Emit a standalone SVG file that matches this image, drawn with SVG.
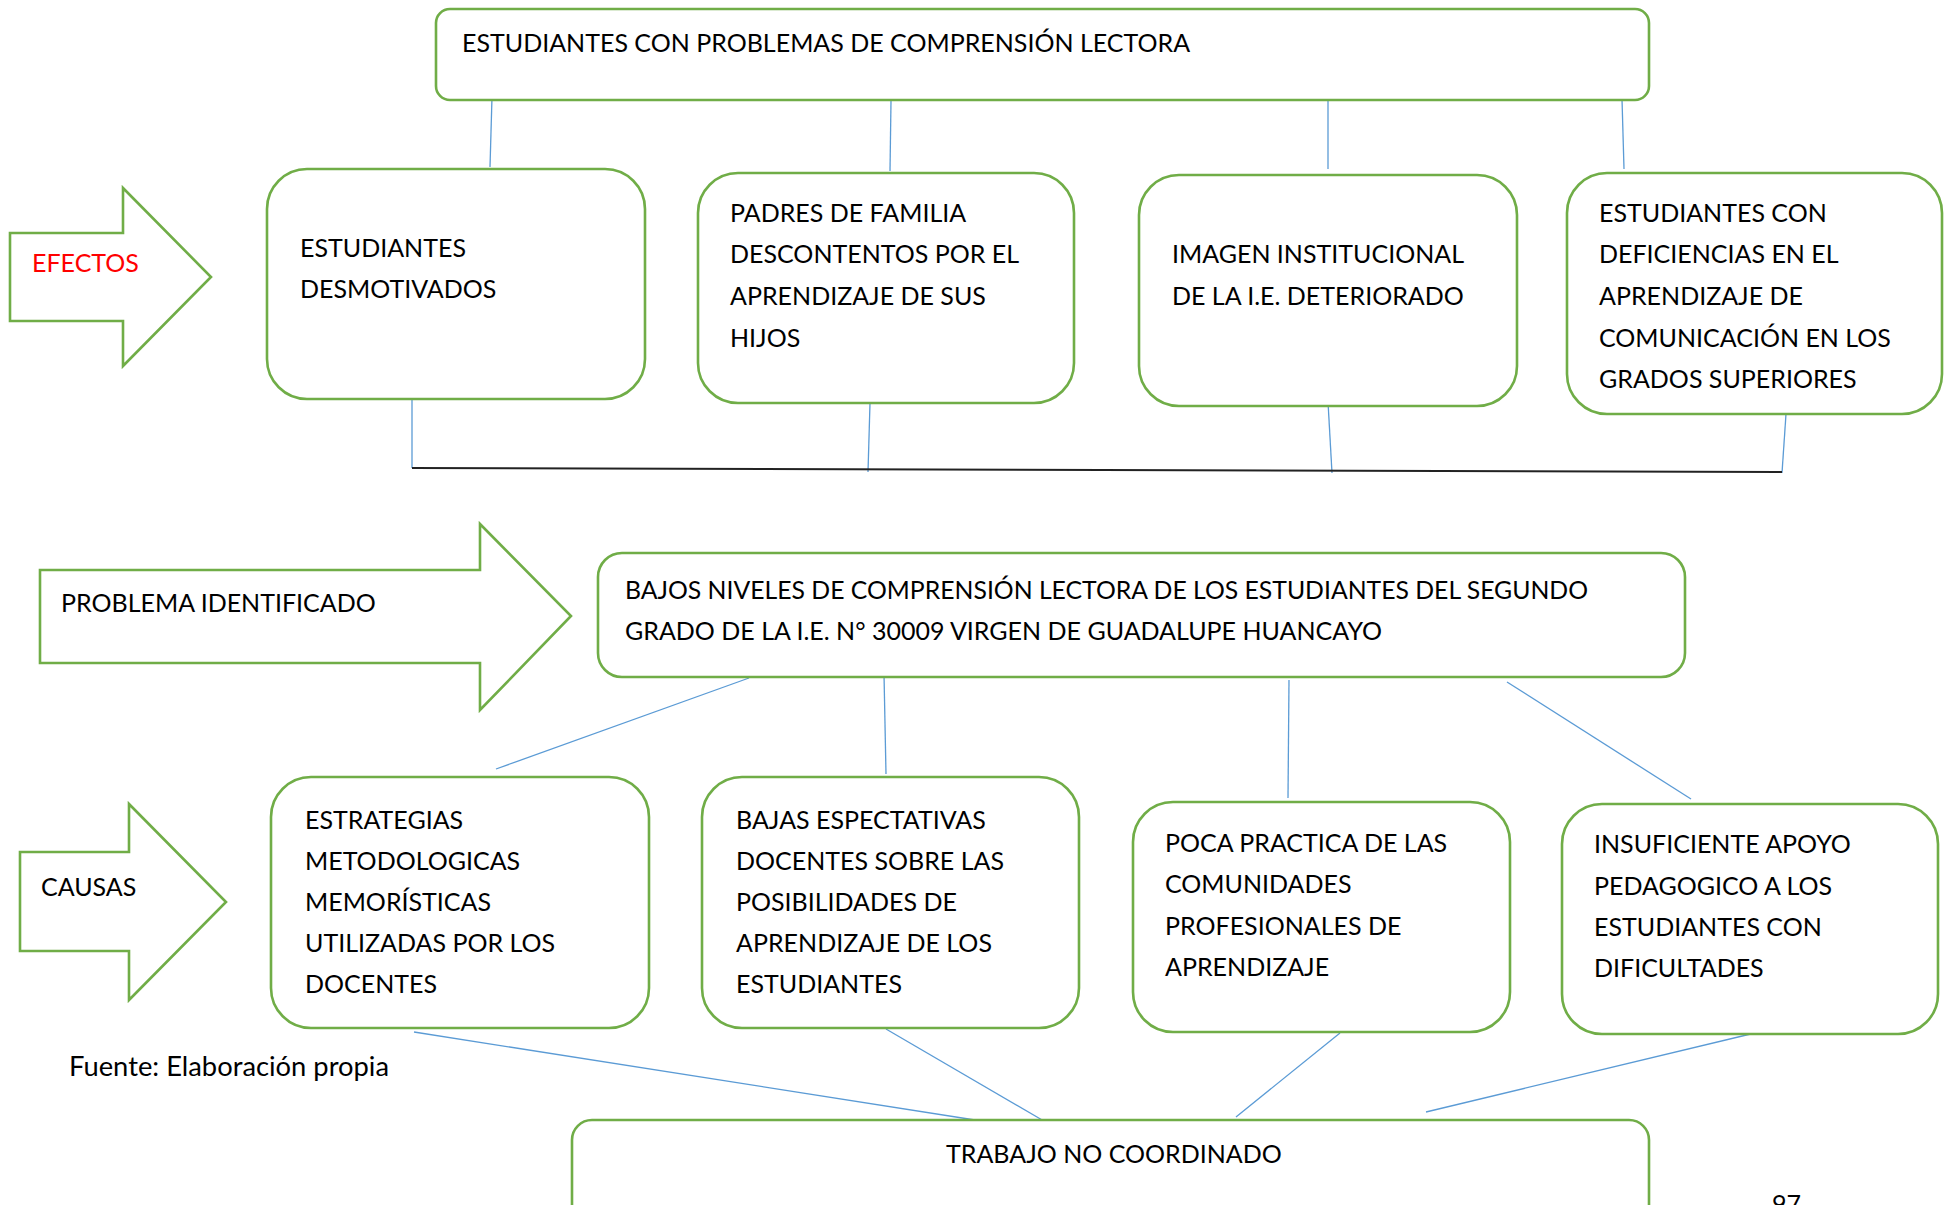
<svg xmlns="http://www.w3.org/2000/svg" width="1944" height="1205" viewBox="0 0 1944 1205">
<style>
  .box { fill: #ffffff; stroke: #70AD47; stroke-width: 2.6; }
  .arrow { fill: #ffffff; stroke: #70AD47; stroke-width: 2.6; stroke-linejoin: miter; }
  .t { font-family: Lato, "Liberation Sans", sans-serif; font-size: 25px; fill: #000000; }
  .red { fill: #FF0000; }
  .con line { stroke: #5B9BD5; stroke-width: 1.3; }
  .con .bar { stroke: #222222; stroke-width: 2; }
</style>
<rect width="1944" height="1205" fill="#ffffff"/>

<g id="connectors" class="con">
  <line x1="492" y1="97" x2="490" y2="167"/>
  <line x1="891" y1="101" x2="890" y2="171"/>
  <line x1="1328" y1="99" x2="1328" y2="169"/>
  <line x1="1622" y1="99" x2="1624" y2="169"/>
  <line x1="412" y1="399" x2="412" y2="468"/>
  <line x1="870" y1="403" x2="868" y2="472"/>
  <line x1="1328" y1="402" x2="1332" y2="473"/>
  <line x1="1786" y1="414" x2="1782" y2="473"/>
  <line class="bar" x1="412" y1="468" x2="1782" y2="472"/>
  <line x1="749" y1="678" x2="496" y2="769"/>
  <line x1="884" y1="674" x2="886" y2="774"/>
  <line x1="1289" y1="680" x2="1288" y2="798"/>
  <line x1="1507" y1="682" x2="1691" y2="799"/>
  <line x1="414" y1="1032" x2="975" y2="1120"/>
  <line x1="886" y1="1029" x2="1049" y2="1124"/>
  <line x1="1340" y1="1033" x2="1236" y2="1117"/>
  <line x1="1759" y1="1032" x2="1426" y2="1112"/>
</g>

<g id="arrow-efectos">
  <polygon class="arrow" points="10,233 123,233 123,188 211,277 123,366 123,321 10,321"/>
  <text class="t red" x="32" y="272">EFECTOS</text>
</g>

<g id="arrow-problema">
  <polygon class="arrow" points="40,570 480,570 480,524 571,616 480,710 480,663 40,663"/>
  <text class="t" x="61" y="612">PROBLEMA IDENTIFICADO</text>
</g>

<g id="arrow-causas">
  <polygon class="arrow" points="20,852 129,852 129,804 226,902 129,1000 129,951 20,951"/>
  <text class="t" x="41" y="896">CAUSAS</text>
</g>

<g id="top">
  <rect class="box" x="436" y="9" width="1213" height="91" rx="14"/>
  <text class="t" x="462" y="52">ESTUDIANTES CON PROBLEMAS DE COMPRENSIÓN LECTORA</text>
</g>

<g id="efecto1">
  <rect class="box" x="267" y="169" width="378" height="230" rx="40"/>
  <text class="t" x="300" y="257">ESTUDIANTES</text>
  <text class="t" x="300" y="298">DESMOTIVADOS</text>
</g>

<g id="efecto2">
  <rect class="box" x="698" y="173" width="376" height="230" rx="40"/>
  <text class="t" x="730" y="222">PADRES DE FAMILIA</text>
  <text class="t" x="730" y="263">DESCONTENTOS POR EL</text>
  <text class="t" x="730" y="305">APRENDIZAJE DE SUS</text>
  <text class="t" x="730" y="347">HIJOS</text>
</g>

<g id="efecto3">
  <rect class="box" x="1139" y="175" width="378" height="231" rx="40"/>
  <text class="t" x="1172" y="263">IMAGEN INSTITUCIONAL</text>
  <text class="t" x="1172" y="305">DE LA I.E. DETERIORADO</text>
</g>

<g id="efecto4">
  <rect class="box" x="1567" y="173" width="375" height="241" rx="40"/>
  <text class="t" x="1599" y="222">ESTUDIANTES CON</text>
  <text class="t" x="1599" y="263">DEFICIENCIAS EN EL</text>
  <text class="t" x="1599" y="305">APRENDIZAJE DE</text>
  <text class="t" x="1599" y="347">COMUNICACIÓN EN LOS</text>
  <text class="t" x="1599" y="388">GRADOS SUPERIORES</text>
</g>

<g id="problema">
  <rect class="box" x="598" y="553" width="1087" height="124" rx="24"/>
  <text class="t" x="625" y="599" textLength="963" lengthAdjust="spacingAndGlyphs">BAJOS NIVELES DE COMPRENSIÓN LECTORA DE LOS ESTUDIANTES DEL SEGUNDO</text>
  <text class="t" x="625" y="640">GRADO DE LA I.E. N° 30009 VIRGEN DE GUADALUPE HUANCAYO</text>
</g>

<g id="causa1">
  <rect class="box" x="271" y="777" width="378" height="251" rx="40"/>
  <text class="t" x="305" y="829">ESTRATEGIAS</text>
  <text class="t" x="305" y="870">METODOLOGICAS</text>
  <text class="t" x="305" y="911">MEMORÍSTICAS</text>
  <text class="t" x="305" y="952">UTILIZADAS POR LOS</text>
  <text class="t" x="305" y="993">DOCENTES</text>
</g>

<g id="causa2">
  <rect class="box" x="702" y="777" width="377" height="251" rx="40"/>
  <text class="t" x="736" y="829">BAJAS ESPECTATIVAS</text>
  <text class="t" x="736" y="870">DOCENTES SOBRE LAS</text>
  <text class="t" x="736" y="911">POSIBILIDADES DE</text>
  <text class="t" x="736" y="952">APRENDIZAJE DE LOS</text>
  <text class="t" x="736" y="993">ESTUDIANTES</text>
</g>

<g id="causa3">
  <rect class="box" x="1133" y="802" width="377" height="230" rx="40"/>
  <text class="t" x="1165" y="852">POCA PRACTICA DE LAS</text>
  <text class="t" x="1165" y="893">COMUNIDADES</text>
  <text class="t" x="1165" y="935">PROFESIONALES DE</text>
  <text class="t" x="1165" y="976">APRENDIZAJE</text>
</g>

<g id="causa4">
  <rect class="box" x="1562" y="804" width="376" height="230" rx="40"/>
  <text class="t" x="1594" y="853">INSUFICIENTE APOYO</text>
  <text class="t" x="1594" y="895">PEDAGOGICO A LOS</text>
  <text class="t" x="1594" y="936">ESTUDIANTES CON</text>
  <text class="t" x="1594" y="977">DIFICULTADES</text>
</g>

<g id="trabajo">
  <rect class="box" x="572" y="1120" width="1077" height="120" rx="20"/>
  <text class="t" x="946" y="1163">TRABAJO NO COORDINADO</text>
</g>

<text class="t" x="69" y="1076" textLength="320" lengthAdjust="spacingAndGlyphs" style="font-size:26px">Fuente: Elaboración propia</text>
<text class="t" x="1772" y="1213">97</text>
</svg>
